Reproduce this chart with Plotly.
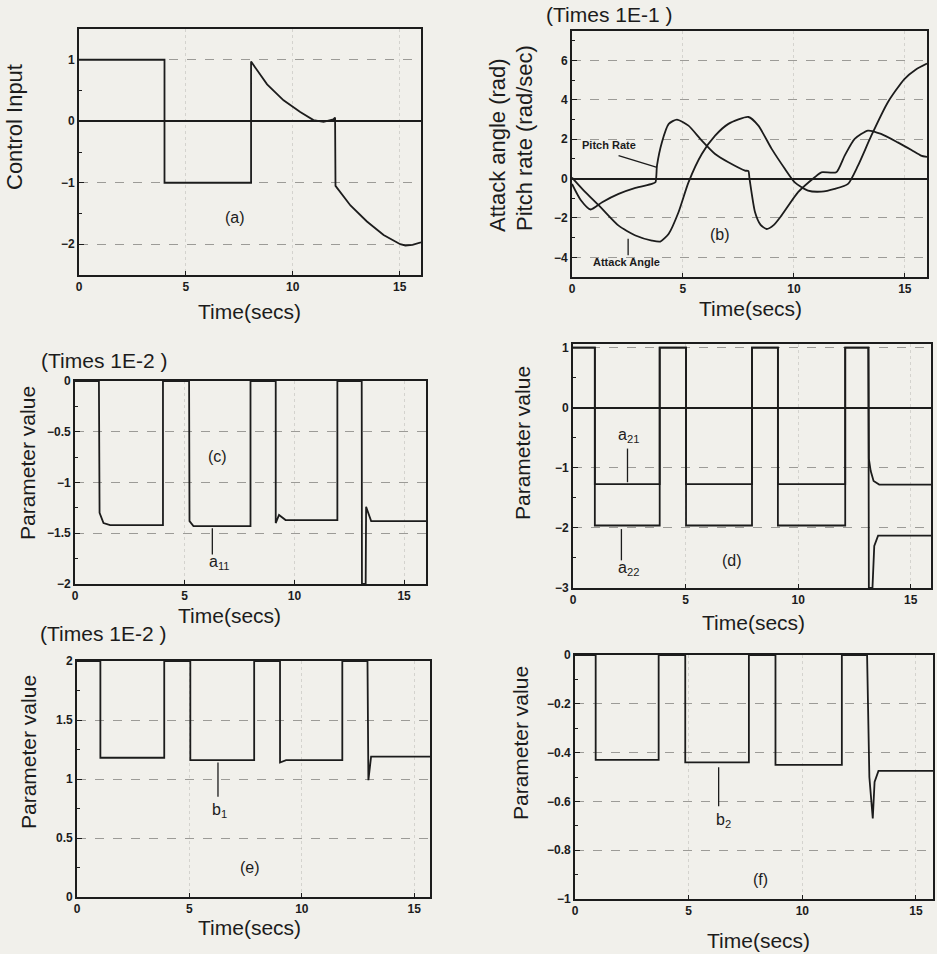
import plotly.graph_objects as go

# ---------------- data ----------------
# (a) control input
ctrl_t = [0, 4.0, 4.0, 8.05, 8.05, 8.8, 9.57, 10.35, 10.97, 11.44, 11.9, 11.98, 12.0, 12.7, 13.47, 14.25, 15.03, 15.27, 15.6, 16.0]
ctrl_u = [1.0, 1.0, -1.0, -1.0, 0.97, 0.6, 0.34, 0.15, 0.02, -0.01, 0.03, 0.06, -1.05, -1.37, -1.63, -1.85, -2.0, -2.02, -2.01, -1.97]

# (b) pitch rate and attack angle (Times 1E-1)
pitch_t = [0, 0.4, 0.84, 1.36, 2.1, 2.86, 3.6, 3.76, 3.83, 4.05, 4.36, 4.73, 5.25, 5.85, 6.45, 7.05, 7.8, 7.95, 8.0, 8.25, 8.5, 8.77, 9.1, 9.44, 10.19, 10.94, 11.24, 11.91, 12.29, 12.74, 13.34, 13.93, 14.68, 15.3, 15.73, 16.0]
pitch_v = [-0.27, -1.1, -1.57, -1.2, -0.78, -0.47, -0.27, -0.19, 0.66, 1.84, 2.78, 3.0, 2.69, 1.93, 1.25, 0.83, 0.41, 0.38, 0.0, -1.71, -2.35, -2.56, -2.35, -1.88, -0.69, 0.07, 0.32, 0.32, 1.17, 2.02, 2.44, 2.27, 1.84, 1.45, 1.17, 1.1]
attack_t = [0, 0.46, 1.36, 2.1, 2.86, 3.6, 3.98, 4.36, 4.8, 5.25, 5.85, 6.45, 7.05, 7.95, 8.4, 9.0, 9.6, 10.04, 10.64, 11.24, 11.84, 12.44, 12.89, 13.49, 14.23, 14.98, 15.5, 16.0]
attack_v = [0.05, -0.52, -1.54, -2.39, -2.89, -3.15, -3.2, -2.8, -1.71, -0.19, 1.25, 2.18, 2.78, 3.13, 2.69, 1.51, 0.49, -0.19, -0.61, -0.66, -0.52, -0.27, 0.66, 2.18, 3.87, 5.06, 5.55, 5.85]

# (c) a11 (Times 1E-2)
a11_t = [0, 1.09, 1.12, 1.3, 1.6, 4.01, 4.01, 5.2, 5.22, 5.4, 5.7, 8.0, 8.0, 9.15, 9.15, 9.3, 9.6, 11.96, 11.96, 13.07, 13.08, 13.25, 13.27, 13.5, 16.0]
a11_v = [0, 0, -1.3, -1.4, -1.42, -1.42, 0, 0, -1.38, -1.43, -1.43, -1.43, 0, 0, -1.4, -1.32, -1.37, -1.37, 0, 0, -2.0, -2.0, -1.24, -1.38, -1.38]

# (d) a21 and a22
a21_t = [0, 0.97, 0.97, 3.85, 3.85, 5.02, 5.02, 7.95, 7.95, 9.1, 9.1, 12.09, 12.09, 13.12, 13.14, 13.22, 13.35, 13.6, 15.9]
a21_v = [1, 1, -1.27, -1.27, 1, 1, -1.27, -1.27, 1, 1, -1.27, -1.27, 1, 1, -0.85, -1.05, -1.22, -1.28, -1.28]
a22_t = [0, 0.97, 0.97, 3.85, 3.85, 5.02, 5.02, 7.95, 7.95, 9.1, 9.1, 12.09, 12.09, 13.12, 13.14, 13.3, 13.38, 13.55, 15.9]
a22_v = [1, 1, -1.96, -1.96, 1, 1, -1.96, -1.96, 1, 1, -1.96, -1.96, 1, 1, -3.0, -3.0, -2.3, -2.13, -2.13]

# (e) b1 (Times 1E-2)
b1_t = [0, 1.04, 1.04, 3.88, 3.88, 5.04, 5.04, 7.88, 7.88, 9.03, 9.03, 9.3, 11.8, 11.8, 12.92, 12.96, 13.08, 13.2, 15.7]
b1_v = [2, 2, 1.18, 1.18, 2, 2, 1.16, 1.16, 2, 2, 1.14, 1.16, 1.16, 2, 2, 0.99, 1.19, 1.19, 1.19]

# (f) b2
b2_t = [0, 0.91, 0.91, 3.68, 3.68, 4.85, 4.85, 7.65, 7.65, 8.82, 8.82, 11.74, 11.74, 12.85, 12.95, 13.1, 13.18, 13.35, 15.75]
b2_v = [0, 0, -0.43, -0.43, 0, 0, -0.44, -0.44, 0, 0, -0.45, -0.45, 0, 0, -0.5, -0.67, -0.52, -0.475, -0.475]

x_ticks = [0, 5, 10, 15]

# ---------------- layout helpers ----------------
W, H = 937, 954
BG = "#f1f0eb"
INK = "#1c1c1c"
FONT = "Liberation Sans"


def fx(px):
    return px / W


def fy(py):
    return 1 - py / H


# panel boxes in pixels: (left, top, right, bottom)
boxes = {
    1: (79, 29, 421, 275),
    2: (572, 31, 927, 277),
    3: (75, 381, 426, 584),
    4: (573, 344, 931, 588),
    5: (77, 661, 430, 897),
    6: (575, 655, 933, 899),
}
x_ranges = {1: [0, 16], 2: [0, 16], 3: [0, 16], 4: [0, 15.9], 5: [0, 15.7], 6: [0, 15.75]}
y_ranges = {1: [-2.5, 1.5], 2: [-5, 7.5], 3: [-2, 0], 4: [-3, 1.06], 5: [0, 2], 6: [-1, 0]}
y_dtick = {1: 1, 2: 2, 3: 0.5, 4: 1, 5: 0.5, 6: 0.2}
y_minor = {1: 0.5, 2: 1, 3: 0.25, 4: 0.5, 5: 0.25, 6: 0.1}

fig = go.Figure()

series = [
    (1, ctrl_t, ctrl_u, "Control input", "linear"),
    (2, pitch_t, pitch_v, "Pitch Rate", "spline"),
    (2, attack_t, attack_v, "Attack Angle", "spline"),
    (3, a11_t, a11_v, "a11", "linear"),
    (4, a21_t, a21_v, "a21", "linear"),
    (4, a22_t, a22_v, "a22", "linear"),
    (5, b1_t, b1_v, "b1", "linear"),
    (6, b2_t, b2_v, "b2", "linear"),
]
for k, t, v, name, shape in series:
    sfx = "" if k == 1 else str(k)
    line = dict(color=INK, width=1.8, shape=shape)
    if shape == "spline":
        line["smoothing"] = 0.6
    fig.add_trace(go.Scatter(x=t, y=v, mode="lines", name=name, showlegend=False,
                             line=line, xaxis="x" + sfx, yaxis="y" + sfx))

layout = dict(width=W, height=H, margin=dict(l=0, r=0, t=0, b=0),
              paper_bgcolor=BG, plot_bgcolor=BG, showlegend=False,
              font=dict(family=FONT, color=INK))

tickfont = dict(family=FONT, size=12, color=INK, weight="bold")
for k, (l, t, r, b) in boxes.items():
    sfx = "" if k == 1 else str(k)
    layout["xaxis" + sfx] = dict(
        domain=[fx(l), fx(r)], anchor="y" + sfx, range=x_ranges[k],
        tickvals=x_ticks, ticks="inside", ticklen=4, tickcolor=INK,
        showline=True, linecolor=INK, linewidth=1.6, mirror=True,
        showgrid=True, gridcolor="#d4d3ce", griddash="dot", gridwidth=1,
        zeroline=False, tickfont=tickfont, automargin=False)
    layout["yaxis" + sfx] = dict(
        domain=[fy(b), fy(t)], anchor="x" + sfx, range=y_ranges[k],
        dtick=y_dtick[k], tick0=0, ticks="inside", ticklen=5, tickcolor=INK,
        minor=dict(dtick=y_minor[k], tick0=0, ticks="inside", ticklen=3, tickcolor=INK, showgrid=False),
        showline=True, linecolor=INK, linewidth=1.6, mirror=True,
        showgrid=True, gridcolor="#9c9b97", griddash="dash", gridwidth=1,
        zeroline=True, zerolinecolor=INK, zerolinewidth=1.6,
        tickfont=tickfont, automargin=False)

annotations = []


def paper_text(text, px, py, size=21, angle=0):
    annotations.append(dict(text=text, x=fx(px), y=fy(py), xref="paper", yref="paper",
                            showarrow=False, textangle=angle,
                            font=dict(family=FONT, size=size, color=INK),
                            xanchor="center", yanchor="middle"))


def data_text(k, text, x, y, size=16, weight="normal"):
    sfx = "" if k == 1 else str(k)
    annotations.append(dict(text=text, x=x, y=y, xref="x" + sfx, yref="y" + sfx,
                            showarrow=False,
                            font=dict(family=FONT, size=size, color=INK, weight=weight),
                            xanchor="center", yanchor="middle"))


# axis titles
paper_text("Control Input", 15, 127, 22, -90)
paper_text("Attack angle (rad)", 497, 145, 22, -90)
paper_text("Pitch rate (rad/sec)", 525, 138, 22, -90)
paper_text("Parameter value", 27, 463, 21, -90)
paper_text("Parameter value", 523, 443, 21, -90)
paper_text("Parameter value", 28, 752, 21, -90)
paper_text("Parameter value", 520, 743, 21, -90)
paper_text("Time(secs)", 250, 312, 21)
paper_text("Time(secs)", 750, 308, 21)
paper_text("Time(secs)", 229, 615, 21)
paper_text("Time(secs)", 753, 622, 21)
paper_text("Time(secs)", 250, 927, 21)
paper_text("Time(secs)", 758, 940, 21)
paper_text("(Times 1E-1 )", 609, 15, 21)
paper_text("(Times 1E-2 )", 104, 360, 21)
paper_text("(Times 1E-2 )", 103, 633, 21)

# panel labels and curve labels
data_text(1, "(a)", 7.3, -1.56)
data_text(2, "(b)", 6.67, -2.83)
data_text(2, "Pitch Rate", 1.66, 1.7, 11, "bold")
data_text(2, "Attack Angle", 2.45, -4.25, 11, "bold")
data_text(3, "(c)", 6.5, -0.74)
data_text(3, "a<sub>11</sub>", 6.6, -1.79)
data_text(4, "(d)", 7.06, -2.54)
data_text(4, "a<sub>21</sub>", 2.45, -0.46)
data_text(4, "a<sub>22</sub>", 2.45, -2.68)
data_text(5, "(e)", 7.69, 0.25)
data_text(5, "b<sub>1</sub>", 6.34, 0.73)
data_text(6, "(f)", 8.16, -0.92)
data_text(6, "b<sub>2</sub>", 6.54, -0.68)

layout["annotations"] = annotations

# leader lines (data coordinates)
leaders = [
    (2, 2.1, 1.17, 3.83, 0.57),
    (2, 2.53, -3.06, 2.53, -3.9),
    (3, 6.26, -1.45, 6.26, -1.71),
    (4, 2.42, -0.68, 2.42, -1.24),
    (4, 2.15, -2.02, 2.15, -2.54),
    (5, 6.27, 1.14, 6.27, 0.85),
    (6, 6.32, -0.46, 6.32, -0.62),
]
shapes = []
for k, x0, y0, x1, y1 in leaders:
    sfx = "" if k == 1 else str(k)
    shapes.append(dict(type="line", xref="x" + sfx, yref="y" + sfx, x0=x0, y0=y0, x1=x1, y1=y1,
                       line=dict(color=INK, width=1.3)))
layout["shapes"] = shapes

fig.update_layout(**layout)
fig.write_html("out.html")
